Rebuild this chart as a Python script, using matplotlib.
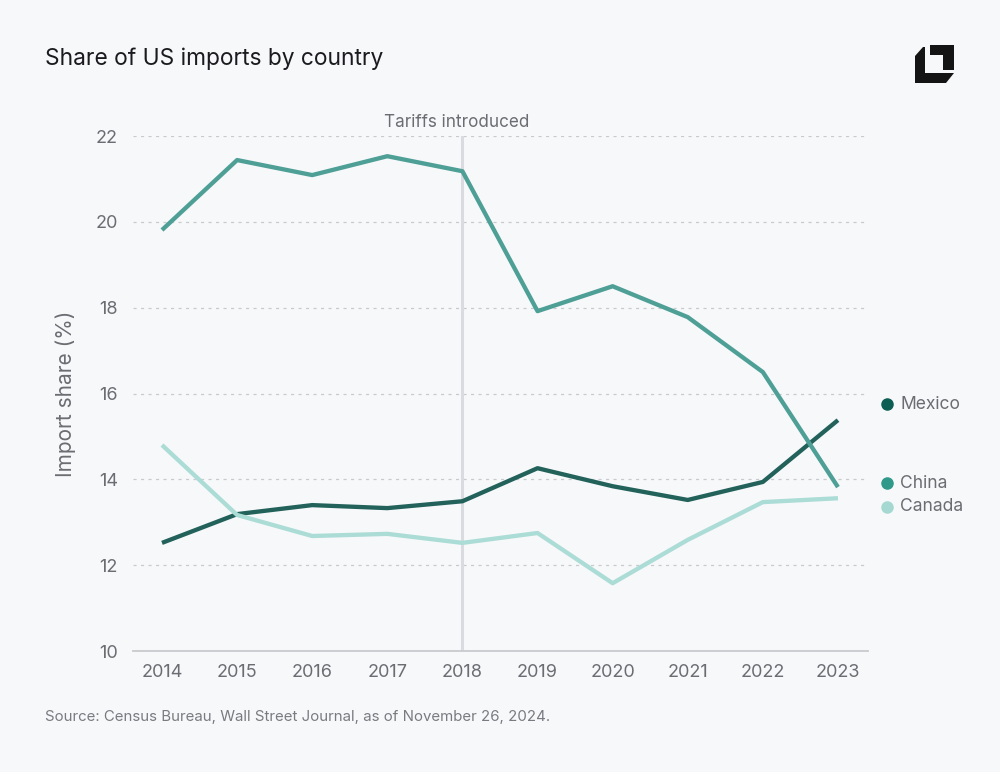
import numpy as np
import matplotlib
matplotlib.use('Agg')
import matplotlib.pyplot as plt
from matplotlib.patches import Polygon

plt.rcParams['font.family'] = ['Inter', 'DejaVu Sans']

years = [2014, 2015, 2016, 2017, 2018, 2019, 2020, 2021, 2022, 2023]
china = [19.81, 21.44, 21.09, 21.53, 21.18, 17.92, 18.50, 17.78, 16.50, 13.82]
mexico = [12.52, 13.19, 13.40, 13.33, 13.49, 14.26, 13.84, 13.52, 13.94, 15.38]
canada = [14.80, 13.17, 12.68, 12.73, 12.52, 12.75, 11.58, 12.59, 13.47, 13.56]
y_ticks = [10, 12, 14, 16, 18, 20, 22]
tariff_year = 2018

series = [
    ('Mexico', mexico, '#22625a', '#0d5e52', 15.75),
    ('China', china, '#4e9f96', '#2f998a', 13.91),
    ('Canada', canada, '#acdcd6', '#a6d8d2', 13.36),
]

bg = '#f7f8fa'
grey = '#6c6d72'

fig = plt.figure(figsize=(10, 7.72), dpi=100, facecolor=bg)
ax = fig.add_axes([0.133, 0.1567, 0.735, 0.6671], facecolor=bg)

# reference line for tariffs
ax.axvline(tariff_year, color='#d9dbe0', lw=2.2, zorder=1)
ax.text(tariff_year - 0.07, 22.12, 'Tariffs introduced', ha='center', va='bottom',
        fontsize=12.3, color=grey)

for yv in y_ticks[1:]:
    ax.axhline(yv, color='#c9cace', lw=0.9, ls=(0, (2.5, 3.5)), zorder=0)

for name, vals, lc, dc, ly in series:
    ax.plot(years, vals, color=lc, lw=3.1, solid_capstyle='butt', zorder=3, clip_on=False)
    ax.plot([1.026], [ly], 'o', ms=8, color=dc, transform=ax.get_yaxis_transform(),
            clip_on=False)
    ax.text(1.044, ly, name, transform=ax.get_yaxis_transform(), va='center', ha='left',
            fontsize=12.6, color=grey)

ax.set_xlim(2013.614, 2023.4)
ax.set_ylim(10, 22)
ax.set_xticks(years)
ax.set_yticks(y_ticks)
ax.set_xticklabels([str(y) for y in years])
ax.tick_params(axis='both', length=0, labelsize=13, labelcolor=grey)
ax.tick_params(axis='x', pad=9)
ax.tick_params(axis='y', pad=11)
for s in ['top', 'right', 'left']:
    ax.spines[s].set_visible(False)
ax.spines['bottom'].set_color('#c9cacd')
ax.spines['bottom'].set_linewidth(1.3)
ax.set_ylabel('Import share (%)', fontsize=15, color=grey, labelpad=14)

fig.text(0.045, 0.924, 'Share of US imports by country', fontsize=16.4, color='#1b1b1f',
         va='center', ha='left')
fig.text(0.045, 0.071, 'Source: Census Bureau, Wall Street Journal, as of November 26, 2024.',
         fontsize=10.8, color='#7a7b80', va='center', ha='left')

# logo (pixel coords)
lax = fig.add_axes([0, 0, 1, 1], facecolor='none')
lax.set_xlim(0, 1000)
lax.set_ylim(772, 0)
lax.axis('off')
left_piece = [(915, 56), (923, 47), (925, 47), (925, 73), (954, 73), (946, 83), (915, 83)]
top_piece = [(930, 45), (954, 45), (954, 70), (943, 70), (943, 55), (930, 55)]
lax.add_patch(Polygon(left_piece, closed=True, color='#141414', lw=0))
lax.add_patch(Polygon(top_piece, closed=True, color='#141414', lw=0))

fig.savefig('out.png', dpi=100, facecolor=bg)
